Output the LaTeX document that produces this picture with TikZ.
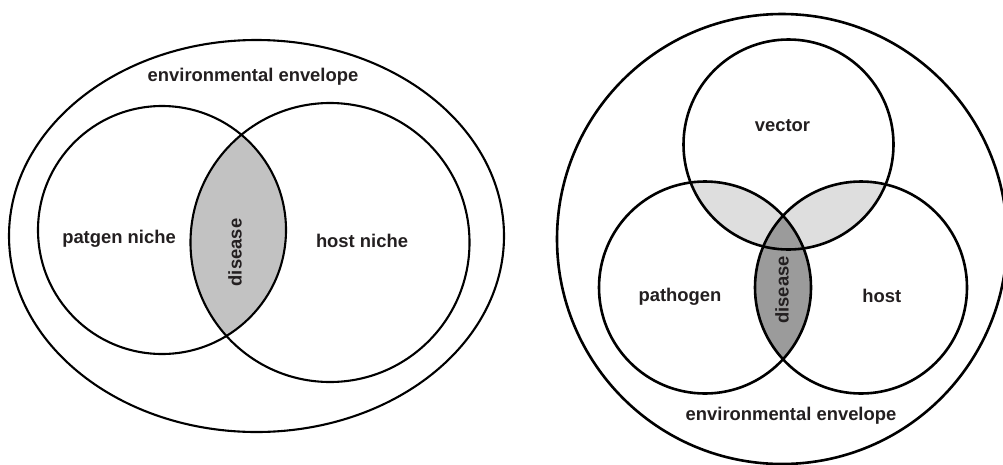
\documentclass[tikz,border=0pt]{standalone}
\usepackage{fontspec}
\setmainfont{Liberation Sans}
\definecolor{txt}{HTML}{231F20}
\definecolor{lensA}{HTML}{C2C2C2}
\definecolor{lensLight}{HTML}{DEDEDE}
\definecolor{lensDark}{HTML}{9B9B9B}
\begin{document}
\begin{tikzpicture}[x=1pt,y=-1pt,
  lbl/.style={font=\fontsize{18.4}{22}\selectfont\bfseries, text=txt, inner sep=0pt},
  ringA/.style={draw=black, line width=2.1pt},
  ringB/.style={draw=black, line width=2.6pt}]
\useasboundingbox (0,0) rectangle (1003,464);
\fill[white] (0,0) rectangle (1003,464);
% ---------- left diagram ----------
\coordinate (pn) at (162,230);
\coordinate (hn) at (330,242.5);
\coordinate (envA) at (256.5,236);
\begin{scope}
  \clip (pn) circle[radius=124];
  \fill[lensA] (hn) circle[radius=139.5];
\end{scope}
\draw[ringA] (envA) ellipse[x radius=247.5, y radius=196];
\draw[ringA] (pn) circle[radius=124];
\draw[ringA] (hn) circle[radius=139.5];
\node[lbl, anchor=base] (envAlbl) at (253,81) {environmental envelope};
\node[lbl, anchor=base] (pnlbl) at (119,243) {patgen niche};
\node[lbl, anchor=base] (hnlbl) at (362,247) {host niche};
\node[lbl, rotate=90] (disA) at (235,252.5) {disease};
% ---------- right diagram ----------
\coordinate (vc) at (788.5,144.5);
\coordinate (pc) at (705,287.5);
\coordinate (hc) at (861,287.5);
\coordinate (envB) at (782,239);
\begin{scope}
  \clip (vc) circle[radius=105];
  \fill[lensLight] (pc) circle[radius=106];
  \fill[lensLight] (hc) circle[radius=106];
\end{scope}
\begin{scope}
  \clip (pc) circle[radius=106];
  \fill[lensDark] (hc) circle[radius=106];
\end{scope}
\draw[ringB] (envB) circle[radius=225];
\draw[ringB] (vc) circle[radius=105];
\draw[ringB] (pc) circle[radius=106];
\draw[ringB] (hc) circle[radius=106];
\node[lbl, anchor=base] (veclbl) at (782.5,131.7) {vector};
\node[lbl, anchor=base] (pclbl) at (680,301.7) {pathogen};
\node[lbl, anchor=base] (hclbl) at (881.7,302.7) {host};
\node[lbl, anchor=base] (envBlbl) at (791,420.7) {environmental envelope};
\node[lbl, rotate=90] (disB) at (782,290) {disease};
\end{tikzpicture}
\end{document}
